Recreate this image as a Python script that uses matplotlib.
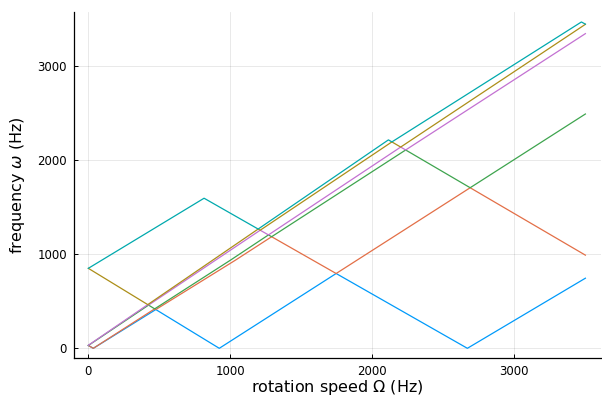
import matplotlib
matplotlib.use('Agg')
import matplotlib.pyplot as plt

blue_x = [0, 35, 475.1, 922, 1745, 2669, 3500]
blue_y = [30, 0, 412.0, 0, 794.9, 0, 745]

orange_x = [0, 35, 467.2, 475.1, 1035, 1290.7, 1745, 2688.7, 3500]
orange_y = [30, 0, 419.3, 412.0, 936, 1185.8, 794.9, 1706.4, 990]

green_x = [0, 424.0, 467.2, 1000, 1268.3, 1290.7, 2234.5, 2688.7, 3500]
green_y = [30, 459.1, 419.3, 936, 1205.0, 1185.8, 2107.7, 1706.4, 2490]

purple_x = [0, 418.4, 424.0, 1210.2, 1268.3, 2199.4, 2234.5, 3500]
purple_y = [32, 464.3, 459.1, 1255.0, 1205.0, 2138.7, 2107.7, 3344]

olive_x = [0, 418.4, 1195.8, 1210.2, 2136, 2137.5, 2199.4, 3500]
olive_y = [850, 464.3, 1267.4, 1255.0, 2192, 2193.4, 2138.7, 3443]

cyan_x = [0, 815, 1195.8, 2113, 2137.5, 3472, 3500]
cyan_y = [850, 1595, 1267.4, 2215, 2193.4, 3468, 3445]

series = [(blue_x, blue_y, '#009AFA'),
          (orange_x, orange_y, '#E36F47'),
          (green_x, green_y, '#3EA44E'),
          (purple_x, purple_y, '#C371D2'),
          (olive_x, olive_y, '#AC8E18'),
          (cyan_x, cyan_y, '#00A9AD')]

xticks = [0, 1000, 2000, 3000]
yticks = [0, 1000, 2000, 3000]

plt.rcParams['mathtext.fontset'] = 'dejavusans'

fig = plt.figure(figsize=(6.02, 3.98), dpi=100)
ax = fig.add_axes([74/602, 40/398, 527/602, 346/398])

for x, y, c in series:
    ax.plot(x, y, color=c, linewidth=0.9)

ax.set_xlim(-101, 3610)
ax.set_ylim(-103, 3574)
ax.set_xticks(xticks)
ax.set_yticks(yticks)
ax.grid(True, color='black', alpha=0.1, linewidth=0.6)
ax.set_axisbelow(True)
ax.spines['top'].set_visible(False)
ax.spines['right'].set_visible(False)
for s in ['left', 'bottom']:
    ax.spines[s].set_linewidth(0.9)
ax.tick_params(direction='in', length=3, width=0.7, labelsize=8.5, pad=5)

ax.set_xlabel(r'rotation speed $\Omega$ (Hz)', fontsize=11.5)
ax.set_ylabel(r'frequency $\omega$ (Hz)', fontsize=11.5)
ax.xaxis.set_label_coords(0.5, -0.058)
ax.yaxis.set_label_coords(-0.09, 0.5)

fig.savefig('out.png', dpi=100)
